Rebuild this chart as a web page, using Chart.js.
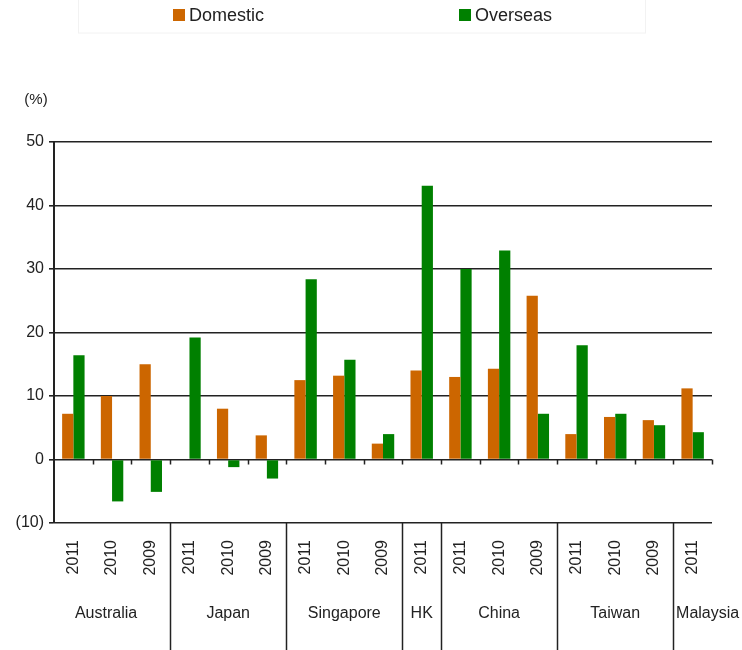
<!DOCTYPE html>
<html>
<head>
<meta charset="utf-8">
<script src="https://cdn.jsdelivr.net/npm/chart.js@4"></script>
<style>
  html, body { margin: 0; padding: 0; background: #fff; }
  #wrap { width: 742px; height: 650px; }
</style>
</head>
<body>
<div id="wrap"><canvas id="chart" width="742" height="650"></canvas></div>
<script>
const years = ['2011', '2010', '2009', '2011', '2010', '2009', '2011', '2010', '2009',
  '2011', '2011', '2010', '2009', '2011', '2010', '2009', '2011'];
const countries = ['Australia', 'Japan', 'Singapore', 'HK', 'China', 'Taiwan', 'Malaysia'];
const groupSizes = [3, 3, 3, 1, 3, 3, 1];
const domestic = [7.2, 10.0, 15.0, null, 8.0, 3.8, 12.5, 13.2, 2.5, 14.0, 13.0, 14.3, 25.8, 4.0, 6.7, 6.2, 11.2];
const overseas = [16.4, -6.6, -5.1, 19.2, -1.2, -3.0, 28.4, 15.7, 4.0, 43.1, 30.0, 32.9, 7.2, 18.0, 7.2, 5.4, 4.3];

const FONT = '"Liberation Sans", Arial, sans-serif';
const INK = '#222';

// legend drawn by hand: the two items sit far apart in the original
const topLegend = {
  id: 'topLegend',
  afterDraw(chart, args, opts) {
    const ctx = chart.ctx;
    ctx.save();
    ctx.strokeStyle = '#f2f2f2';
    ctx.lineWidth = 1;
    ctx.strokeRect(78.5, -1, 567, 34);
    ctx.font = '18px ' + FONT;
    ctx.textBaseline = 'middle';
    chart.data.datasets.forEach((ds, i) => {
      const x0 = opts.x[i];
      ctx.fillStyle = ds.backgroundColor;
      ctx.fillRect(x0, opts.y - 6, 12, 12);
      ctx.fillStyle = INK;
      ctx.fillText(ds.label, x0 + 16, opts.y + 1);
    });
    ctx.restore();
  }
};

// unit label, zero-line ticks, country groups under the year labels
const groupAxis = {
  id: 'groupAxis',
  afterDraw(chart) {
    const { ctx, chartArea, scales: { x, y } } = chart;
    const half = (x.getPixelForValue(1) - x.getPixelForValue(0)) / 2;
    const edge = i => x.getPixelForValue(i) - half;
    ctx.save();
    ctx.fillStyle = INK;
    ctx.font = '15px ' + FONT;
    ctx.textAlign = 'center';
    ctx.textBaseline = 'middle';
    ctx.fillText('(%)', chartArea.left - 18, chartArea.top - 42);

    ctx.strokeStyle = INK;
    ctx.lineWidth = 1.5;
    const y0 = y.getPixelForValue(0);
    ctx.beginPath();
    for (let i = 1; i <= years.length; i++) {
      const px = Math.round(edge(i)) + 0.5;
      ctx.moveTo(px, y0);
      ctx.lineTo(px, y0 + 5);
    }
    ctx.stroke();

    ctx.font = '16px ' + FONT;
    let start = 0;
    groupSizes.forEach((n, g) => {
      const a = g === 0 ? chartArea.left - 12 : edge(start);
      const b = g === groupSizes.length - 1 ? chart.width : edge(start + n);
      if (g > 0) {
        ctx.beginPath();
        ctx.moveTo(Math.round(a) + 0.5, chartArea.bottom);
        ctx.lineTo(Math.round(a) + 0.5, chart.height);
        ctx.stroke();
      }
      ctx.fillText(countries[g], (a + b) / 2, 614);
      start += n;
    });
    ctx.restore();
  }
};

new Chart(document.getElementById('chart'), {
  type: 'bar',
  data: {
    labels: years,
    datasets: [
      { label: 'Domestic', data: domestic, backgroundColor: '#cc6600' },
      { label: 'Overseas', data: overseas, backgroundColor: '#008000' }
    ]
  },
  options: {
    responsive: false,
    animation: false,
    categoryPercentage: 0.58,
    barPercentage: 1.0,
    layout: { padding: { top: 142, right: 30, left: 0, bottom: 0 } },
    plugins: {
      legend: { display: false },
      tooltip: { enabled: false },
      topLegend: { x: [173, 459], y: 15 }
    },
    scales: {
      x: {
        grid: { display: false, drawTicks: false },
        border: { display: false },
        ticks: {
          autoSkip: false, maxRotation: 90, minRotation: 90,
          padding: 17, color: INK, font: { family: FONT, size: 16 }
        },
        afterFit(scale) { scale.height = 127; }
      },
      y: {
        min: -10, max: 50,
        grid: { color: INK, lineWidth: 1.6, tickLength: 5 },
        border: { display: true, color: INK, width: 2 },
        ticks: {
          stepSize: 10, padding: 5, color: INK,
          font: { family: FONT, size: 16 },
          callback: v => v < 0 ? '(' + (-v) + ')' : v
        },
        afterFit(scale) { scale.width = 54; }
      }
    }
  },
  plugins: [topLegend, groupAxis]
});
</script>
</body>
</html>
